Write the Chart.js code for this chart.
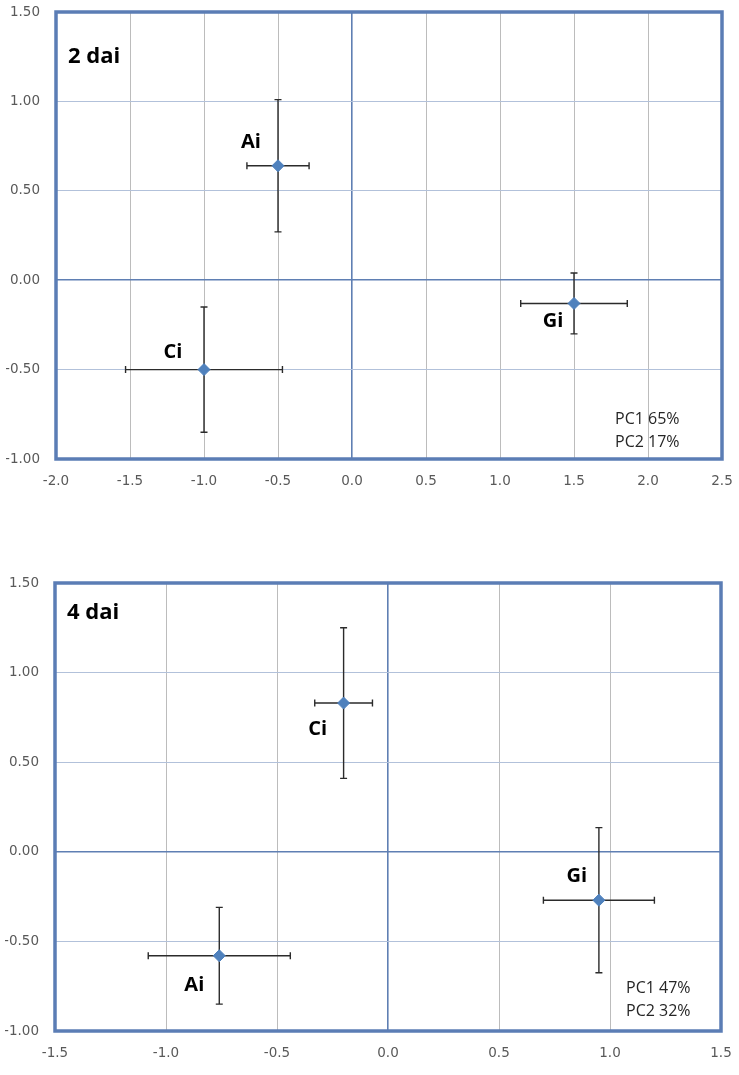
<!DOCTYPE html>
<html>
<head>
<meta charset="utf-8">
<script src="https://cdn.jsdelivr.net/npm/chart.js@4/dist/chart.umd.min.js"></script>
<style>
  body { margin: 0; background: #fff; }
  .box { position: absolute; left: 0; width: 739px; }
</style>
</head>
<body>
<div class="box" style="top:0;height:500px"><canvas id="day2"></canvas></div>
<div class="box" style="top:570px;height:505px"><canvas id="day4"></canvas></div>
<script>
const groups = ['Ai', 'Ci', 'Gi'];

// 2 dai
const pc1Day2 = [-0.50, -1.00, 1.50];
const pc2Day2 = [0.64, -0.50, -0.13];
const errPc1Day2 = [0.21, 0.53, 0.36];
const errPc2Day2 = [0.37, 0.35, 0.17];
const varDay2 = ['PC1 65%', 'PC2 17%'];

// 4 dai
const pc1Day4 = [-0.76, -0.20, 0.95];
const pc2Day4 = [-0.58, 0.83, -0.27];
const errPc1Day4 = [0.32, 0.13, 0.25];
const errPc2Day4 = [0.27, 0.42, 0.405];
const varDay4 = ['PC1 47%', 'PC2 32%'];

const blue = '#4f81bd';
const frame = '#5b7db5';
const zeroLine = '#5f7fb3';

// error bars, point labels, frame and notes
const extras = {
  id: 'extras',
  beforeDatasetsDraw(chart, args, o) {
    const ctx = chart.ctx, xs = chart.scales.x, ys = chart.scales.y;
    ctx.save();
    ctx.strokeStyle = '#2b2b2b';
    ctx.lineWidth = 1.4;
    o.xs.forEach((x, i) => {
      const y = o.ys[i];
      const px = xs.getPixelForValue(x), py = ys.getPixelForValue(y);
      const x0 = xs.getPixelForValue(x - o.ex[i]), x1 = xs.getPixelForValue(x + o.ex[i]);
      const y0 = ys.getPixelForValue(y - o.ey[i]), y1 = ys.getPixelForValue(y + o.ey[i]);
      const c = 3.5;
      ctx.beginPath();
      ctx.moveTo(x0, py); ctx.lineTo(x1, py);
      ctx.moveTo(x0, py - c); ctx.lineTo(x0, py + c);
      ctx.moveTo(x1, py - c); ctx.lineTo(x1, py + c);
      ctx.moveTo(px, y0); ctx.lineTo(px, y1);
      ctx.moveTo(px - c, y0); ctx.lineTo(px + c, y0);
      ctx.moveTo(px - c, y1); ctx.lineTo(px + c, y1);
      ctx.stroke();
    });
    ctx.restore();
  },
  afterDraw(chart, args, o) {
    const ctx = chart.ctx, a = chart.chartArea, xs = chart.scales.x, ys = chart.scales.y;
    ctx.save();
    ctx.strokeStyle = frame;
    ctx.lineWidth = 3.5;
    ctx.strokeRect(a.left, a.top, a.right - a.left, a.bottom - a.top);

    ctx.fillStyle = '#000';
    ctx.textAlign = 'left';
    ctx.textBaseline = 'middle';
    ctx.font = 'bold 22px "Open Sans"';
    ctx.fillText(o.title, a.left + 12, a.top + o.titleDy);

    ctx.textAlign = 'center';
    ctx.font = 'bold 20px "Open Sans"';
    o.labels.forEach((t, i) => {
      const px = xs.getPixelForValue(o.xs[i]), py = ys.getPixelForValue(o.ys[i]);
      ctx.fillText(t, px + o.offsets[i][0], py + o.offsets[i][1]);
    });

    ctx.textAlign = 'left';
    ctx.fillStyle = '#262626';
    ctx.font = '16px "Open Sans"';
    o.notes.forEach((t, i) => {
      ctx.fillText(t, a.right - o.noteDx, a.bottom - o.noteDy + i * 23);
    });
    ctx.restore();
  }
};

function makeChart(id, pc1, pc2, e1, e2, xMin, xMax, pad, extraOpts) {
  const gridColor = (base) => (c) => (c.tick && Math.abs(c.tick.value) < 1e-9 ? zeroLine : base);
  const gridWidth = (c) => (c.tick && Math.abs(c.tick.value) < 1e-9 ? 1.6 : 1);
  new Chart(document.getElementById(id), {
    type: 'scatter',
    data: {
      datasets: [{
        data: groups.map((g, i) => ({ x: pc1[i], y: pc2[i] })),
        pointStyle: 'rectRot',
        pointRadius: 6,
        backgroundColor: blue,
        borderColor: blue
      }]
    },
    options: {
      responsive: true,
      maintainAspectRatio: false,
      animation: false,
      layout: { padding: pad },
      plugins: {
        legend: { display: false },
        tooltip: { enabled: false },
        extras: Object.assign({ xs: pc1, ys: pc2, ex: e1, ey: e2, labels: groups }, extraOpts)
      },
      scales: {
        x: {
          type: 'linear',
          min: xMin, max: xMax,
          border: { display: false },
          grid: { drawTicks: false, color: gridColor('#bcbcbc'), lineWidth: gridWidth },
          ticks: {
            stepSize: 0.5, padding: 14, color: '#595959',
            font: { family: '"DejaVu Sans"', size: 13.5 },
            callback: v => v.toFixed(1)
          },
          afterFit: s => { s.height = 30; s.paddingLeft = 0; s.paddingRight = 0; }
        },
        y: {
          type: 'linear',
          min: -1, max: 1.5,
          border: { display: false },
          grid: { drawTicks: false, color: gridColor('#b2c1da'), lineWidth: gridWidth },
          ticks: {
            stepSize: 0.5, padding: 16, color: '#595959',
            font: { family: '"DejaVu Sans"', size: 13.5 },
            callback: v => v.toFixed(2)
          },
          afterFit: s => { s.width = 50; s.paddingTop = 0; s.paddingBottom = 0; }
        }
      }
    },
    plugins: [extras]
  });
}

makeChart('day2', pc1Day2, pc2Day2, errPc1Day2, errPc2Day2, -2, 2.5,
  { left: 6, right: 17, top: 12, bottom: 11 },
  { title: '2 dai', titleDy: 45, notes: varDay2, noteDx: 107, noteDy: 40,
    offsets: [[-27, -23], [-31, -17], [-21, 18]] });

makeChart('day4', pc1Day4, pc2Day4, errPc1Day4, errPc2Day4, -1.5, 1.5,
  { left: 5, right: 18, top: 13, bottom: 14 },
  { title: '4 dai', titleDy: 30, notes: varDay4, noteDx: 95, noteDy: 43,
    offsets: [[-25, 30], [-26, 26], [-22, -24]] });
</script>
</body>
</html>
